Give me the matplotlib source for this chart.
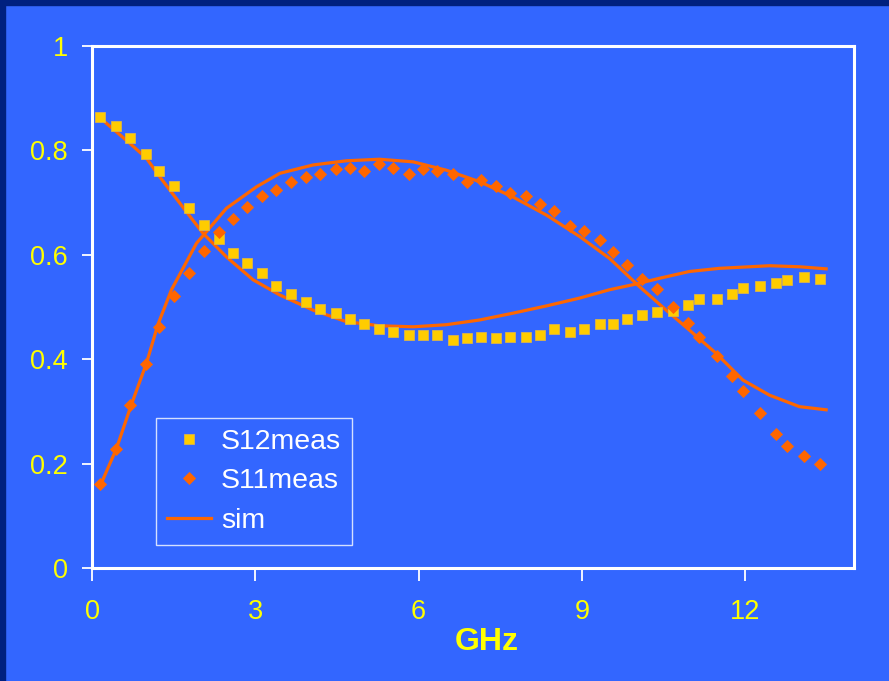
import matplotlib.pyplot as plt
from matplotlib.patches import Rectangle

# measured frequencies (GHz), same for both measured curves
freq = [0.15, 0.44, 0.70, 0.99, 1.24, 1.51, 1.79, 2.05, 2.33, 2.59,
        2.85, 3.13, 3.39, 3.65, 3.94, 4.19, 4.48, 4.74, 5.00, 5.28,
        5.54, 5.83, 6.09, 6.34, 6.63, 6.89, 7.15, 7.43, 7.69, 7.98,
        8.24, 8.49, 8.78, 9.04, 9.33, 9.58, 9.84, 10.10, 10.39, 10.67,
        10.96, 11.16, 11.48, 11.76, 11.96, 12.28, 12.57, 12.77, 13.08, 13.37]

s12_meas = [0.863, 0.847, 0.823, 0.793, 0.760, 0.732, 0.690, 0.657, 0.630, 0.603,
            0.585, 0.566, 0.540, 0.524, 0.509, 0.497, 0.488, 0.476, 0.467, 0.458,
            0.452, 0.446, 0.446, 0.446, 0.437, 0.440, 0.443, 0.440, 0.443, 0.443,
            0.446, 0.458, 0.452, 0.457, 0.467, 0.467, 0.476, 0.485, 0.490, 0.492,
            0.503, 0.515, 0.515, 0.524, 0.537, 0.540, 0.545, 0.552, 0.557, 0.554]

s11_meas = [0.161, 0.228, 0.312, 0.391, 0.462, 0.521, 0.565, 0.607, 0.644, 0.668,
            0.691, 0.713, 0.724, 0.740, 0.749, 0.755, 0.764, 0.767, 0.761, 0.773,
            0.767, 0.755, 0.764, 0.761, 0.755, 0.740, 0.743, 0.731, 0.719, 0.713,
            0.698, 0.683, 0.656, 0.646, 0.628, 0.605, 0.580, 0.554, 0.535, 0.499,
            0.469, 0.442, 0.406, 0.368, 0.339, 0.296, 0.257, 0.233, 0.215, 0.199]

# simulation curves
sim12_freq = [0.14, 0.69, 1.00, 1.24, 1.73, 2.04, 2.47, 2.96, 3.45, 4.06,
              4.67, 5.28, 5.90, 6.51, 7.12, 7.73, 8.35, 8.96, 9.51, 10.00,
              10.43, 10.98, 11.53, 12.45, 13.00, 13.49]
sim12 = [0.863, 0.814, 0.785, 0.750, 0.683, 0.641, 0.596, 0.552, 0.523, 0.494,
         0.472, 0.464, 0.462, 0.466, 0.475, 0.488, 0.502, 0.517, 0.533, 0.544,
         0.555, 0.568, 0.574, 0.579, 0.577, 0.573]

sim11_freq = [0.17, 0.45, 0.72, 1.00, 1.21, 1.46, 1.92, 2.47, 3.02, 3.45,
              4.06, 4.67, 5.28, 5.90, 6.51, 7.12, 7.73, 8.35, 8.96, 9.51,
              10.06, 10.55, 11.04, 11.47, 11.96, 12.45, 13.00, 13.49]
sim11 = [0.162, 0.229, 0.312, 0.392, 0.466, 0.533, 0.622, 0.689, 0.730, 0.756,
         0.772, 0.780, 0.783, 0.778, 0.762, 0.740, 0.711, 0.676, 0.635, 0.593,
         0.539, 0.494, 0.450, 0.411, 0.360, 0.331, 0.309, 0.303]

xticks = [0, 3, 6, 9, 12]
yticks = [0, 0.2, 0.4, 0.6, 0.8, 1]
ytick_labels = ["0", "0.2", "0.4", "0.6", "0.8", "1"]

bg = "#3366ff"
yellow = "#ffff00"
orange = "#ff6600"
gold = "#ffcc00"

plt.rcParams["font.family"] = "Liberation Sans"

fig = plt.figure(figsize=(8.89, 6.81), dpi=100, facecolor=bg)
ax = fig.add_axes([0.1035, 0.166, 0.857, 0.7665])
ax.set_facecolor(bg)

# dark frame on top and left of the slide
fig.patches.append(Rectangle((0, 1 - 5 / 681), 1, 5 / 681, transform=fig.transFigure,
                             color="#00207f", zorder=0))
fig.patches.append(Rectangle((0, 0), 5 / 889, 1, transform=fig.transFigure,
                             color="#00207f", zorder=0))

ax.plot(freq, s12_meas, linestyle="none", marker="s", markersize=7,
        markeredgewidth=0.6, markeredgecolor="#d9b34d",
        color=gold, label="S12meas", zorder=3)
ax.plot(freq, s11_meas, linestyle="none", marker="D", markersize=5.8,
        markeredgewidth=0.6, color=orange, label="S11meas", zorder=3)
ax.plot(sim12_freq, sim12, color=orange, linewidth=2.3, label="sim", zorder=2)
ax.plot(sim11_freq, sim11, color=orange, linewidth=2.3, zorder=2)

ax.set_xlim(0, 14)
ax.set_ylim(0, 1)
ax.set_xticks(xticks)
ax.set_yticks(yticks)
ax.set_yticklabels(ytick_labels)

for sp in ax.spines.values():
    sp.set_color("white")
    sp.set_linewidth(2.2)

ax.tick_params(axis="y", direction="out", length=7.5, width=1.3, color="white",
               labelcolor=yellow, labelsize=19.5, pad=10)
ax.tick_params(axis="x", direction="out", length=9, width=1.3, color="white",
               labelcolor=yellow, labelsize=19.5, pad=13)

ax.set_xlabel("GHz", color=yellow, fontsize=23, fontweight="bold")
ax.xaxis.set_label_coords(0.518, -0.114)

leg = ax.legend(loc="upper left", bbox_to_anchor=(0.084, 0.287), fontsize=20.5,
                frameon=True, fancybox=False, facecolor="none", edgecolor="white",
                handlelength=1.55, markerscale=1.0, labelspacing=0.47,
                borderpad=0.38, handletextpad=0.35, borderaxespad=0)
leg.get_frame().set_linewidth(1.0)
for t in leg.get_texts():
    t.set_color("white")

plt.savefig("out.png", dpi=100, facecolor=bg)
